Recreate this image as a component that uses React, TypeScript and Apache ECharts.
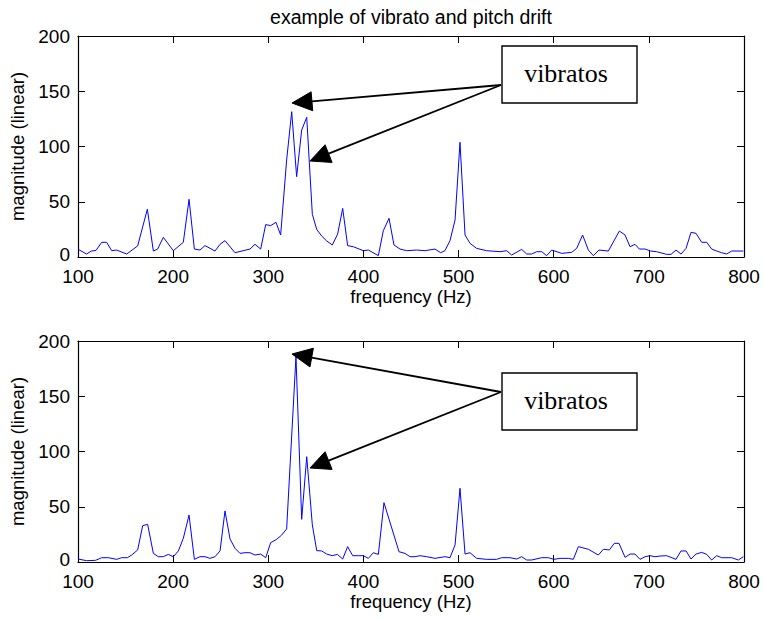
import React, { useEffect, useRef } from "react";
import * as echarts from "echarts";

const titleText = "example of vibrato and pitch drift";
const xName = "frequency (Hz)";
const yName = "magnitude (linear)";
const calloutText = "vibratos";
const xTicks = { min: 100, max: 800, interval: 100 };
const yTicks = { min: 0, max: 200, interval: 50 };

const topFreq = [100,109,114,119,124.9,130.1,135.4,140.6,151.2,162.7,172.9,179.2,183.7,189.7,200.2,210.7,216.7,222.3,228.2,233.5,244,249.3,254.5,265,280.8,286,292,297.3,302.5,308.1,313,319.3,324.6,329.8,335.1,340.4,346.3,350.9,356.1,361.4,367.3,372.9,378.2,383.4,389.4,399.9,405.2,415.7,420.9,426.9,432.1,438.4,445.5,456,464.7,475.2,481.2,485.7,491,496.3,501.5,506.8,512,519,529.5,543.6,550.6,555.8,566.3,571.6,576.8,582.1,587.4,592.6,597.9,608.4,618.9,624.1,630.4,636.4,641.7,647.6,657.4,669,675,680.2,685.4,690,696,701.9,708.2,718.7,723.3,728.5,733.8,739.1,744.3,749.6,755.5,760.8,766,771.3,776.5,781.8,787,799.3,800];
const topMag = [7,2.7,5.4,6,13.3,13.3,5.7,6.3,2.7,10,43.2,5.4,7.2,17.8,5.7,13.3,52.2,7.2,6.3,10.3,5.4,11.5,14.8,3.9,7.2,11.5,7.2,29.3,28.4,31.4,19.9,87.8,131.5,72.7,114.9,126.4,38.6,25,19,14.5,10.9,20.8,44,10.3,9.3,5.7,6.3,1.2,23.8,35,10.9,7.2,5.7,6.3,5.7,7.2,3.9,5.7,14.8,33.5,103.8,19.9,12.4,7.8,5.7,4.8,5.7,1.8,6.9,2.7,2.7,4.8,4.8,1.2,6.3,3.3,4.2,7.8,19.9,6.3,1.2,6.3,5.4,23.5,19.9,9.3,11.5,7.2,7.2,5.4,4.8,2.4,2.4,6.3,2.7,7.8,22.3,21.4,13.3,13.3,7.2,5.4,3.9,2.7,5.4,5.4,5.4];

const botFreq = [100,109.1,118.5,124.9,131.9,140.6,145.9,151.9,156.4,162.7,168,173.2,179.2,184.4,189.7,194.9,200.2,205.5,210.7,216.7,222.3,228.2,233.5,238.7,244,249.3,254.5,259.8,265,270.3,275.5,280.8,286,292,297.3,302.5,308.8,314.1,319.3,329.1,335.1,340.4,346.3,350.9,356.1,361.4,367.3,372.6,378.2,383.4,388.7,394.7,399.9,405.2,410.4,415.7,421.6,437.4,443.7,449,454.2,459.5,466.5,475.2,485.7,491,496.3,501.5,506.8,512,519,529.5,540,545.3,554.1,561.1,566.3,571.6,576.8,587.4,594.4,600.3,606.6,615.4,620.6,625.9,636.4,646.9,652.2,658.5,663.7,668.6,675,680.2,685.4,690.7,696,701.2,706.5,711.7,718.7,728.5,733.8,739.1,744.3,749.6,755.5,760.8,766,771.3,776.5,787,794.1,799.3,800];
const botMag = [2.7,1.2,1.5,3.9,3.9,2.4,3.9,3.9,6.3,10.9,32.9,34.1,7.8,4.8,4.8,6.9,4.8,10,21.4,42.5,2.4,4.8,4.8,3.3,4.8,10,46.2,20.8,12.4,7.8,8.4,8.4,6.3,7.2,3.9,17.5,20.5,24.4,29.9,185.8,38.6,95.3,33.5,10.3,10,7.2,5.7,6.9,2.7,13.9,5.7,5.7,5.7,3.3,8.4,6.9,53.7,9.3,7.8,4.8,4.8,5.7,4.8,3.3,4.8,3.9,15.4,66.7,7.2,8.4,3.3,2.4,2.4,3.9,3.9,2.7,4.8,1.8,1.8,3.9,3.9,2.4,3.3,3.3,2.4,13.9,11.5,6.3,11.5,10.9,16.9,16.9,4.2,7.2,7.2,2.4,4.8,5.7,4.8,5.4,5.7,2.4,10,10,2.7,7.2,8.7,6.9,1.8,5.7,3.9,3.9,1.8,4.8,4.8];

const SANS = '"Liberation Sans", Arial, sans-serif';
const SERIF = '"Liberation Serif", "Times New Roman", serif';

const GRID_L = 78, GRID_W = 666, GRID_H = 221;
const GRID_TOPS = [36, 341];

function arrow(tipX: number, tipY: number, fromX: number, fromY: number) {
  const dx = fromX - tipX, dy = fromY - tipY;
  const len = Math.hypot(dx, dy);
  const ux = dx / len, uy = dy / len;
  const hl = 20, hw = 9.5;
  const bx = tipX + ux * hl, by = tipY + uy * hl;
  const px = -uy, py = ux;
  return [
    { type: "line", z: 100, shape: { x1: fromX, y1: fromY, x2: bx, y2: by }, style: { stroke: "#000", lineWidth: 1.8 } },
    { type: "polygon", z: 100, shape: { points: [[tipX, tipY], [bx + px * hw, by + py * hw], [bx - px * hw, by - py * hw]] }, style: { fill: "#000", stroke: "#000", lineWidth: 1 } },
  ];
}

function callout(boxY: number, lineY: number, tips: number[][]) {
  const els: any[] = [];
  tips.forEach(([tx, ty]) => els.push(...arrow(tx, ty, 501, lineY)));
  els.push({ type: "rect", z: 101, shape: { x: 502, y: boxY, width: 135, height: 57 }, style: { fill: "#fff", stroke: "#000", lineWidth: 1.4 } });
  els.push({ type: "text", z: 102, x: 566, y: boxY + 27, style: { text: calloutText, font: `26px ${SERIF}`, fontSize: 26, fontFamily: SERIF, fill: "#000", align: "center", verticalAlign: "middle", textAlign: "center", textVerticalAlign: "middle" } });
  return els;
}

export default function App() {
  const ref = useRef<HTMLDivElement>(null);
  useEffect(() => {
    if (!ref.current) return;
    const chart = echarts.init(ref.current, null, { renderer: "svg" });
    const axisLine = { show: true, onZero: false, lineStyle: { color: "#000", width: 1.2 } };
    const tick = { show: true, inside: true, length: 7, lineStyle: { color: "#000", width: 1 } };
    const xLabel = { color: "#000", fontSize: 19, fontFamily: SANS, margin: 12.5, lineHeight: 14 };
    const yLabel = {
      color: "#000", fontSize: 19, fontFamily: SANS, margin: 8, lineHeight: 14,
      formatter: (v: number) => (v === 0 ? "{z|0}" : String(v)),
      rich: { z: { color: "#000", fontSize: 19, fontFamily: SANS, lineHeight: 14, padding: [0, 0, 6, 0] } },
    };
    const nameStyle = { color: "#000", fontSize: 18.5, fontFamily: SANS };
    const xAxes: any[] = [];
    const yAxes: any[] = [];
    [0, 1].forEach((g) => {
      xAxes.push({ gridIndex: g, type: "value", position: "bottom", ...xTicks, axisLine, axisTick: tick, axisLabel: xLabel, splitLine: { show: false }, name: xName, nameLocation: "middle", nameGap: 30, nameTextStyle: nameStyle });
      xAxes.push({ gridIndex: g, type: "value", position: "top", ...xTicks, axisLine, axisTick: tick, axisLabel: { show: false }, splitLine: { show: false } });
      yAxes.push({ gridIndex: g, type: "value", position: "left", ...yTicks, axisLine, axisTick: tick, axisLabel: yLabel, splitLine: { show: false }, name: yName, nameLocation: "middle", nameGap: 45, nameRotate: 90, nameTextStyle: nameStyle });
      yAxes.push({ gridIndex: g, type: "value", position: "right", ...yTicks, axisLine, axisTick: tick, axisLabel: { show: false }, splitLine: { show: false } });
    });
    const mk = (f: number[], m: number[]) => f.map((x, i) => [x, m[i]]);
    chart.setOption({
      animation: false,
      backgroundColor: "#fff",
      grid: GRID_TOPS.map((t) => ({ left: GRID_L, top: t, width: GRID_W, height: GRID_H, containLabel: false })),
      xAxis: xAxes,
      yAxis: yAxes,
      series: [
        { type: "line", xAxisIndex: 0, yAxisIndex: 0, data: mk(topFreq, topMag), showSymbol: false, symbol: "none", lineStyle: { color: "#0000ff", width: 1 }, itemStyle: { color: "#0000ff" } },
        { type: "line", xAxisIndex: 2, yAxisIndex: 2, data: mk(botFreq, botMag), showSymbol: false, symbol: "none", lineStyle: { color: "#0000ff", width: 1 }, itemStyle: { color: "#0000ff" } },
      ],
      graphic: [
        { type: "text", z: 100, x: 411, y: 17, style: { text: titleText, font: `19.5px ${SANS}`, fontSize: 19.5, fontFamily: SANS, fill: "#000", align: "center", verticalAlign: "middle", textAlign: "center", textVerticalAlign: "middle" } },
        ...callout(46, 85, [[292, 103], [310, 161]]),
        ...callout(373, 392, [[292, 354], [310, 468]]),
      ],
    });
    return () => chart.dispose();
  }, []);
  return <div ref={ref} style={{ position: "absolute", left: 0, top: 0, width: 764, height: 619 }} />;
}
